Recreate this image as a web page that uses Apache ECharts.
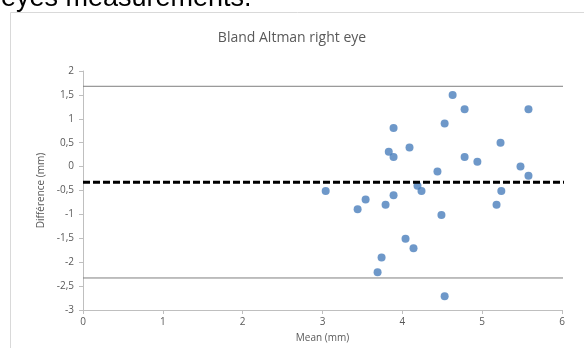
<!DOCTYPE html>
<html>
<head>
<meta charset="utf-8">
<script src="https://cdn.jsdelivr.net/npm/echarts@6/dist/echarts.min.js"></script>
<style>
html,body{margin:0;padding:0;background:#fff;}
#chart{width:584px;height:348px;}
</style>
</head>
<body>
<div id="chart"></div>
<script>
// mean (mm) vs difference (mm)
var meanVals=[4.63,4.78,5.58,4.53,3.89,5.23,4.09,3.83,3.89,4.78,4.94,5.48,4.44,5.58,4.19,4.24,3.04,5.24,3.54,3.89,3.44,3.79,5.18,4.49,4.04,4.14,3.74,3.69,4.53];
var diffVals=[1.50,1.20,1.20,0.90,0.81,0.50,0.40,0.31,0.20,0.20,0.10,0.00,-0.10,-0.19,-0.40,-0.51,-0.51,-0.51,-0.69,-0.60,-0.89,-0.80,-0.80,-1.01,-1.51,-1.71,-1.90,-2.21,-2.71];
var bias=-0.33;
var upperLoa=1.68;
var lowerLoa=-2.33;

var points=[];
for(var i=0;i<meanVals.length;i++){
    points.push([meanVals[i],diffVals[i]]);
}

var chart=echarts.init(document.getElementById("chart"));
var axisGrey="#bfbfbf";
var textGrey="#595959";
option={
    animation:false,
    graphic:[
        {
            type:"rect",
            shape:{x:10.5,y:12.5,width:600,height:400},
            style:{fill:"none",stroke:"#d9d9d9",lineWidth:1}
        },
        {
            type:"text",
            left:1,
            top:-15,
            style:{text:"eyes measurements.",fill:"#000",font:"27px 'Liberation Sans', Arial, sans-serif"}
        }
    ],
    title:{
        text:"Bland Altman right eye",
        left:"center",
        top:26,
        textStyle:{
            color:textGrey,
            fontFamily:"Open Sans",
            fontSize:14,
            fontWeight:"normal"
        }
    },
    grid:{
        left:83,
        right:22,
        top:71,
        bottom:37
    },
    xAxis:{
        type:"value",
        min:0,
        max:6,
        interval:1,
        name:"Mean (mm)",
        nameLocation:"middle",
        nameGap:23,
        nameTextStyle:{color:textGrey,fontSize:10,fontFamily:"Open Sans"},
        splitLine:{show:false},
        axisLine:{onZero:false,lineStyle:{color:axisGrey,width:1}},
        axisTick:{show:true,length:4,lineStyle:{color:axisGrey}},
        axisLabel:{color:textGrey,fontSize:10,fontFamily:"Open Sans",margin:7}
    },
    yAxis:{
        type:"value",
        min:-3,
        max:2,
        interval:0.5,
        name:"Différence (mm)",
        nameLocation:"middle",
        nameGap:37,
        nameTextStyle:{color:textGrey,fontSize:10,fontFamily:"Open Sans"},
        splitLine:{show:false},
        axisLine:{show:true,onZero:false,lineStyle:{color:axisGrey,width:1}},
        axisTick:{show:true,length:4,lineStyle:{color:axisGrey}},
        axisLabel:{
            color:textGrey,
            fontSize:10,
            fontFamily:"Open Sans",
            margin:9,
            formatter:function(v){return String(v).replace(".",",");}
        }
    },
    series:[
        {
            name:"upper",
            type:"line",
            clip:false,
            symbol:"none",
            silent:true,
            lineStyle:{color:"#7f7f7f",width:1},
            data:[[0,upperLoa],[6.3,upperLoa]]
        },
        {
            name:"lower",
            type:"line",
            clip:false,
            symbol:"none",
            silent:true,
            lineStyle:{color:"#7f7f7f",width:1},
            data:[[0,lowerLoa],[6.3,lowerLoa]]
        },
        {
            name:"bias",
            type:"line",
            clip:false,
            symbol:"none",
            silent:true,
            lineStyle:{color:"#000",width:3,type:[7,3]},
            data:[[0,bias],[6.3,bias]]
        },
        {
            name:"points",
            type:"scatter",
            symbolSize:8,
            itemStyle:{color:"#4a7ebb"},
            data:points
        }
    ]
};
chart.setOption(option);
</script>
</body>
</html>
